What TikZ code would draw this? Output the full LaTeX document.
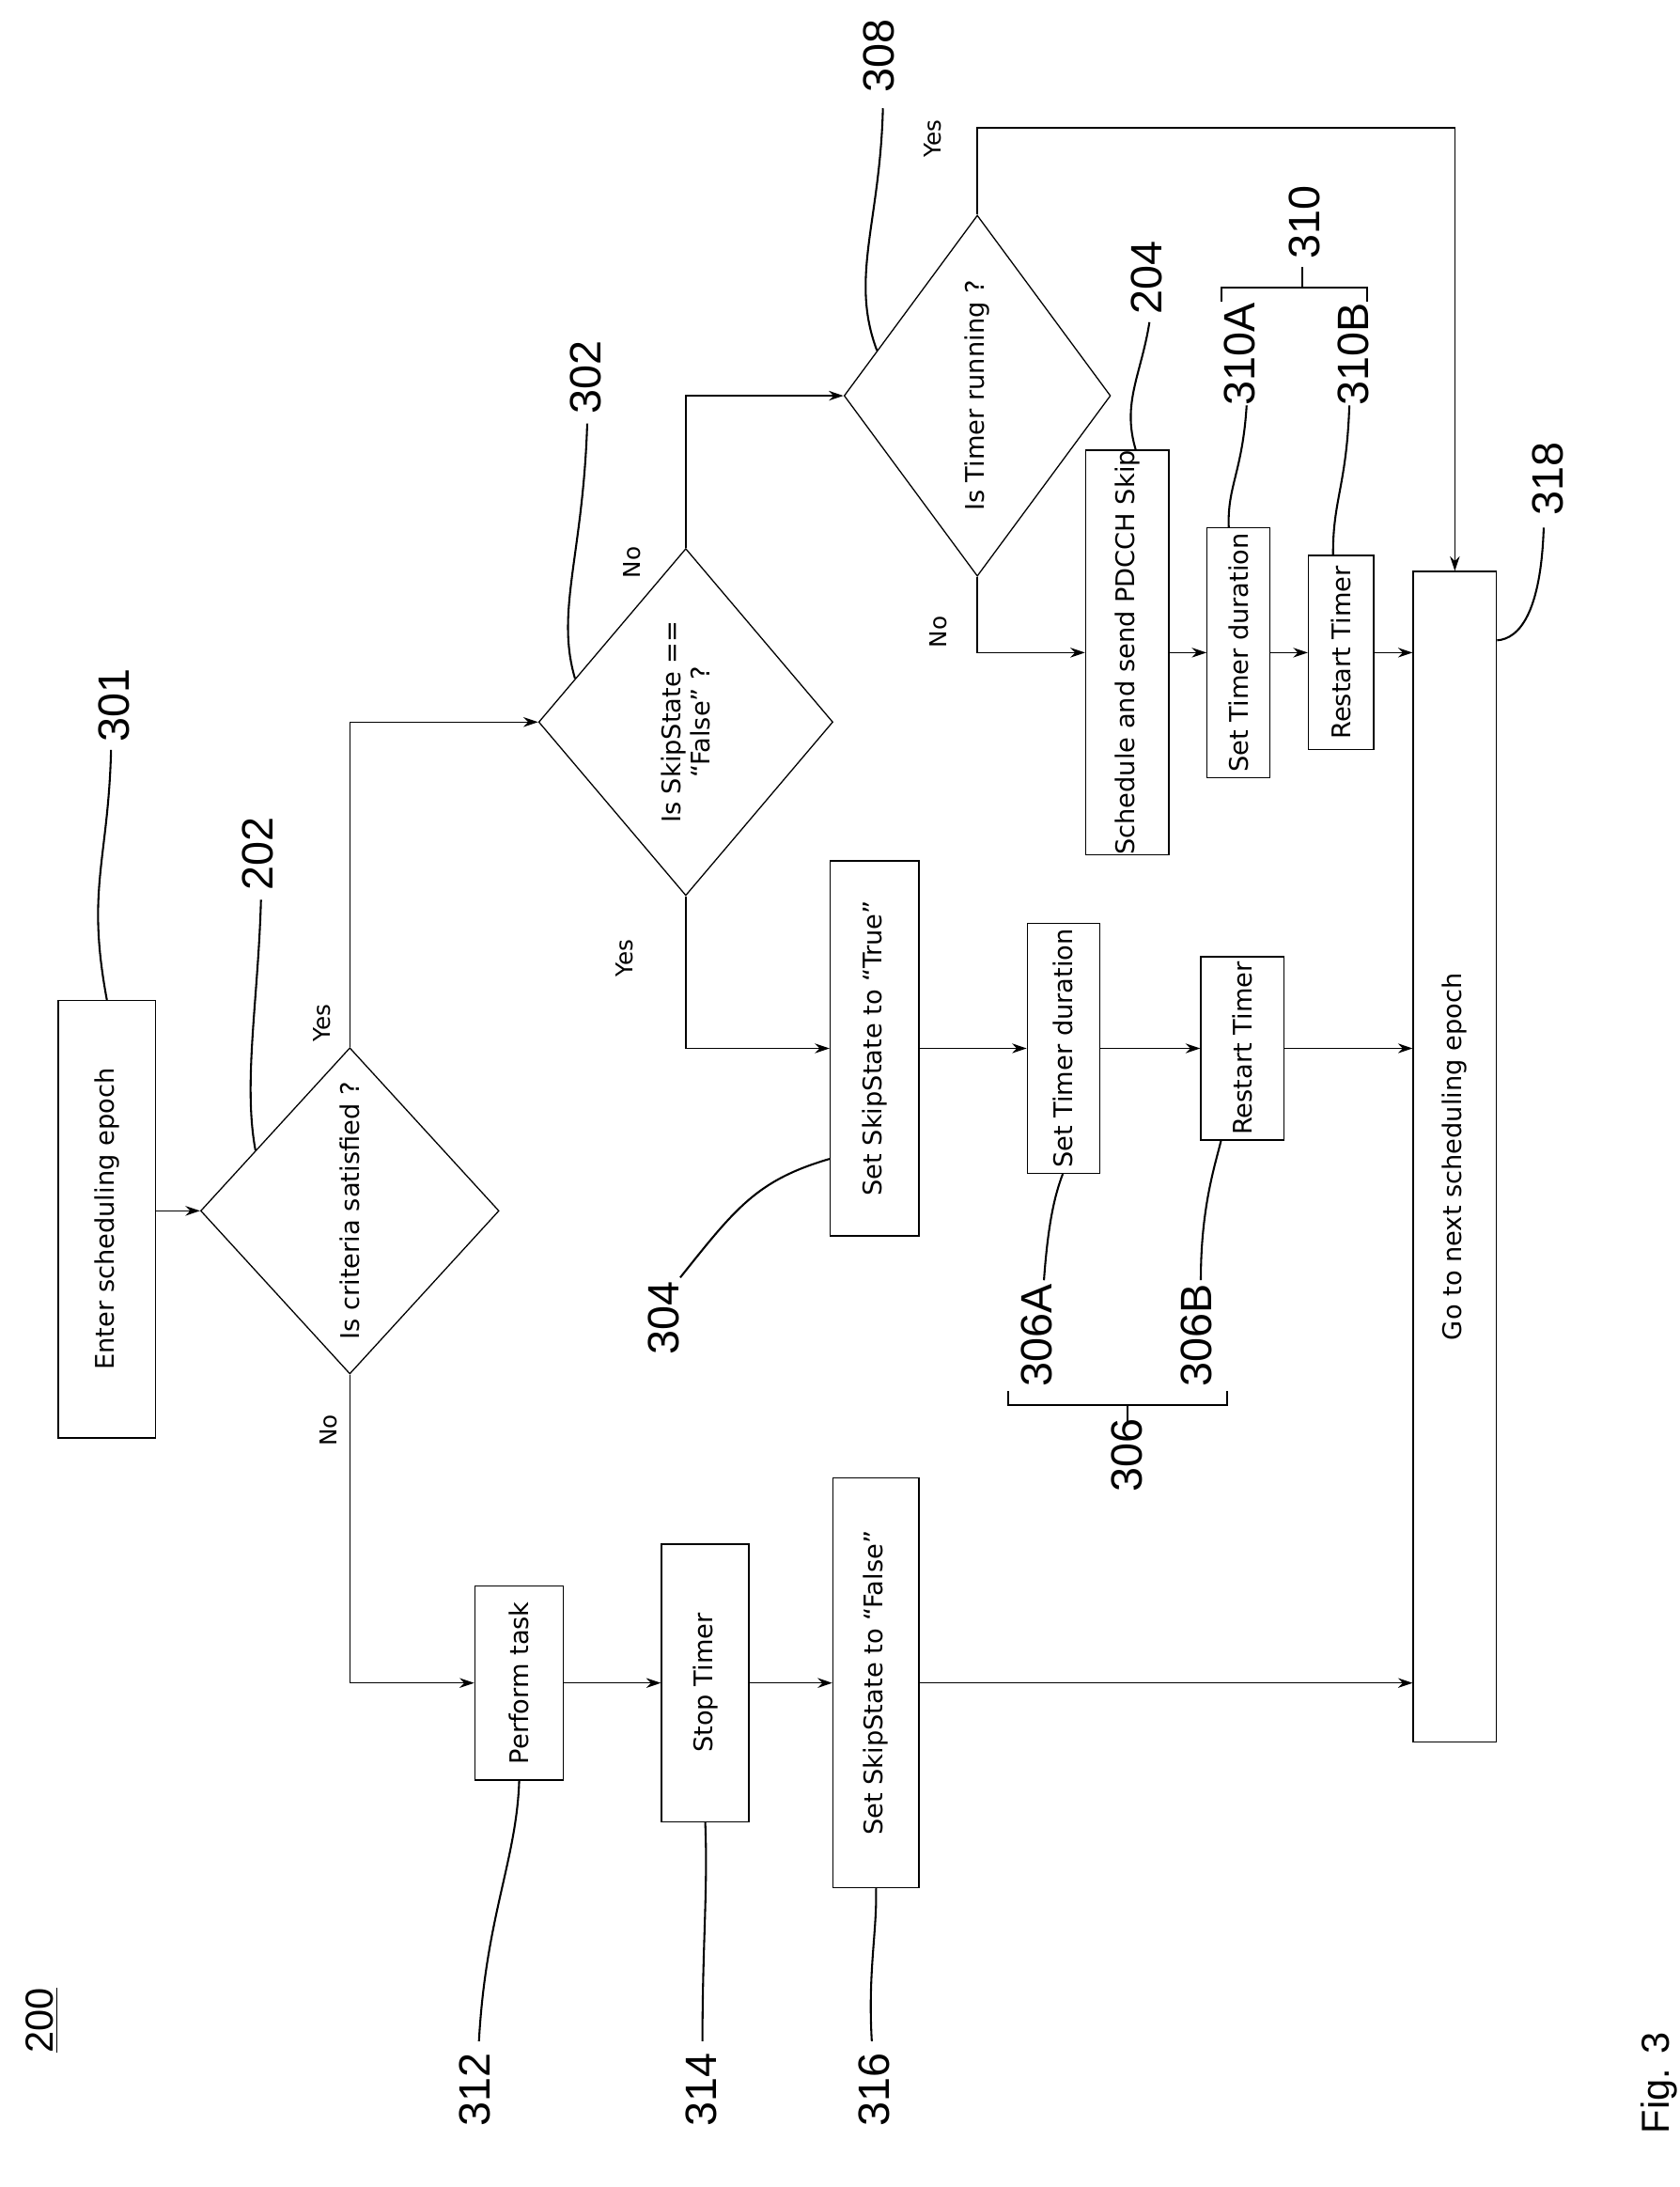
\documentclass[tikz,border=0pt]{standalone}
\usepackage{fontspec}
\setmainfont{DejaVu Sans}
\newfontfamily\lblfont{Liberation Sans}
\usetikzlibrary{shapes.geometric,calc,arrows.meta}
\begin{document}
\begin{tikzpicture}[x=0.02cm,y=-0.02cm,
  box/.style={draw,rectangle,inner sep=0pt,line width=0.5pt,font=\fontsize{10.5}{12}\selectfont},
  dia/.style={draw,diamond,inner sep=0pt,line width=0.5pt},
  dtxt/.style={rotate=90,font=\fontsize{10.5}{12}\selectfont,align=center},
  yn/.style={rotate=90,font=\fontsize{9.5}{11}\selectfont},
  lbl/.style={rotate=90,font=\lblfont\fontsize{18}{20}\selectfont},
  arr/.style={line width=0.5pt,-{Stealth[length=6pt,width=4pt]}},
  ld/.style={line width=0.8pt}]
\useasboundingbox (0,0) rectangle (1210,1575);
% boxes
\node[box,minimum width=1.4cm,minimum height=6.3cm] (e) at (77,878) {\rotatebox{90}{Enter scheduling epoch}};
\node[dia,minimum width=4.3cm,minimum height=4.7cm] (d1) at (252,872) {};
\node[dtxt] (t1) at (d1.center) {Is criteria satisfied ?};
\node[dia,minimum width=4.24cm,minimum height=5.0cm] (d2) at (494,520) {};
\node[dtxt] (t2) at (d2.center) {Is SkipState ==\\``False'' ?};
\node[dia,minimum width=3.84cm,minimum height=5.2cm] (d3) at (704,285) {};
\node[dtxt] (t3) at (d3.center) {Is Timer running ?};
\node[box,minimum width=1.2cm,minimum height=5.8cm] (b204) at (812,470) {\rotatebox{90}{Schedule and send PDCCH Skip}};
\node[box,minimum width=0.9cm,minimum height=3.6cm] (b310a) at (892,470) {\rotatebox{90}{Set Timer duration}};
\node[box,minimum width=0.94cm,minimum height=2.8cm] (b310b) at (966,470) {\rotatebox{90}{Restart Timer}};
\node[box,minimum width=1.2cm,minimum height=16.86cm] (b318) at (1048,833) {\rotatebox{90}{Go to next scheduling epoch}};
\node[box,minimum width=1.28cm,minimum height=5.4cm] (b304) at (630,755) {\rotatebox{90}{Set SkipState to ``True''}};
\node[box,minimum width=1.04cm,minimum height=3.6cm] (b306a) at (766,755) {\rotatebox{90}{Set Timer duration}};
\node[box,minimum width=1.2cm,minimum height=2.64cm] (b306b) at (895,755) {\rotatebox{90}{Restart Timer}};
\node[box,minimum width=1.28cm,minimum height=2.8cm] (b312) at (374,1212) {\rotatebox{90}{Perform task}};
\node[box,minimum width=1.26cm,minimum height=4cm] (b314) at (508,1212) {\rotatebox{90}{Stop Timer}};
\node[box,minimum width=1.24cm,minimum height=5.9cm] (b316) at (631,1212) {\rotatebox{90}{Set SkipState to ``False''}};
% connectors
\draw[arr] (e.east |- d1.west) -- (d1.west);
\draw[arr] (d1.north) |- (d2.west);
\draw[arr] (d1.south) |- (b312.west);
\draw[arr] (d2.north) |- (d3.west);
\draw[arr] (d2.south) |- (b304.west);
\coordinate (ytop) at (0,92);
\draw[arr] (d3.north) -- (d3.north |- ytop) -| (b318.north);
\draw[arr] (d3.south) |- (b204.west);
\draw[arr] (b204.east) -- (b310a.west);
\draw[arr] (b310a.east) -- (b310b.west);
\draw[arr] (b310b.east) -- (b318.west |- b310b.east);
\draw[arr] (b304.east) -- (b306a.west);
\draw[arr] (b306a.east) -- (b306b.west);
\draw[arr] (b306b.east) -- (b318.west |- b306b.east);
\draw[arr] (b312.east) -- (b314.west);
\draw[arr] (b314.east) -- (b316.west);
\draw[arr] (b316.east) -- (b318.west |- b316.east);
% yes/no
\node[yn] (y1) at (232,737) {Yes};
\node[yn] (n1) at (237,1030) {No};
\node[yn] (y2) at (450,690) {Yes};
\node[yn] (n2) at (455,405) {No};
\node[yn] (y3) at (672,100) {Yes};
\node[yn] (n3) at (676,455) {No};
% labels
\node[lbl] (l301) at (82,508) {301};
\coordinate (p301) at ($(e.north west)!0.5!(e.north east)$);
\draw[ld] (80,540) .. controls (78,620) and (62,640) .. (p301);
\node[lbl] (l202) at (186,615) {202};
\coordinate (p202) at ($(d1.west)!0.37!(d1.north)$);
\draw[ld] (188,648) .. controls (186,720) and (175,780) .. (p202);
\node[lbl] (l302) at (422,272) {302};
\coordinate (p302) at ($(d2.west)!0.25!(d2.north)$);
\draw[ld] (423,305) .. controls (420,400) and (400,440) .. (p302);
\node[lbl] (l308) at (633,40) {308};
\coordinate (p308) at ($(d3.west)!0.25!(d3.north)$);
\draw[ld] (636,78) .. controls (634,160) and (612,200) .. (p308);
\node[lbl] (l204) at (826,200) {204};
\coordinate (p204) at ($(b204.north west)!0.6!(b204.north east)$);
\draw[ld] (828,232) .. controls (822,270) and (808,290) .. (p204);
\node[lbl] (l310a) at (893,255) {310A};
\coordinate (p310a) at ($(b310a.north west)!0.35!(b310a.north east)$);
\draw[ld] (898,292) .. controls (895,340) and (884,350) .. (p310a);
\node[lbl] (l310b) at (975,255) {310B};
\coordinate (p310b) at ($(b310b.north west)!0.38!(b310b.north east)$);
\draw[ld] (972,292) .. controls (970,350) and (960,360) .. (p310b);
\draw[ld] (880,217) -- (880,207) -- (985,207) -- (985,217);
\draw[ld] (938,207) -- (938,192);
\node[lbl] (l310) at (940,160) {310};
\node[lbl] (l318) at (1115,345) {318};
\coordinate (p318) at ($(b318.north east)+(0,50)$);
\draw[ld] (1112,380) .. controls (1110,440) and (1095,460) .. (p318);
\node[lbl] (l304) at (478,949) {304};
\coordinate (p304) at ($(b304.north west)+(0,215)$);
\draw[ld] (490,920) .. controls (530,870) and (545,850) .. (p304);
\node[lbl] (l306a) at (747,962) {306A};
\coordinate (p306a) at ($(b306a.south west)+(26,0)$);
\draw[ld] (752,922) .. controls (755,880) and (760,860) .. (p306a);
\node[lbl] (l306b) at (862,962) {306B};
\coordinate (p306b) at ($(b306b.south west)+(15,0)$);
\draw[ld] (865,922) .. controls (865,870) and (875,840) .. (p306b);
\draw[ld] (726,1002) -- (726,1012) -- (884,1012) -- (884,1002);
\draw[ld] (812,1012) -- (812,1024);
\node[lbl] (l306) at (812,1048) {306};
\node[lbl] (l312) at (342,1505) {312};
\coordinate (p312) at (b312.south);
\draw[ld] (345,1470) .. controls (350,1380) and (372,1340) .. (p312);
\node[lbl] (l314) at (505,1505) {314};
\coordinate (p314) at (b314.south);
\draw[ld] (506,1470) .. controls (506,1400) and (510,1360) .. (p314);
\node[lbl] (l316) at (630,1505) {316};
\coordinate (p316) at (b316.south);
\draw[ld] (628,1470) .. controls (625,1420) and (632,1390) .. (p316);
\node[rotate=90,font=\lblfont\fontsize{16}{18}\selectfont] (n200) at (30,1455) {\underline{200}};
\node[rotate=90,font=\lblfont\fontsize{16}{18}\selectfont] (fig) at (1195,1500) {Fig. 3};
\end{tikzpicture}
\end{document}
